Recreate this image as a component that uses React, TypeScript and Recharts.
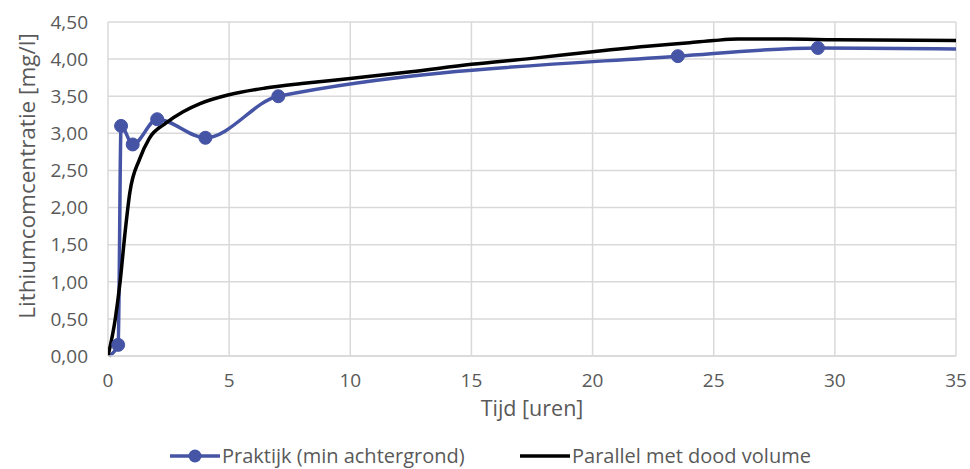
import React from "react";
import { LineChart, Line, XAxis, YAxis, CartesianGrid, Legend, Label } from "recharts";

const praktijkX = [0.05, 0.42, 0.54, 1.02, 2.03, 4.02, 7.03, 23.52, 29.3, 47];
const praktijkY = [0, 0.15, 3.1, 2.85, 3.19, 2.94, 3.5, 4.04, 4.15, 4.07];
const praktijkHiddenDots = [0, 9];

const parallelX = [0, 0.3, 0.5, 0.7, 0.9, 1.3, 1.7, 2.4, 3.1, 3.8, 5, 6.5, 8, 10, 12.5, 15, 17.5, 20, 22.5, 24, 25, 26, 28, 30, 35];
const parallelY = [0, 0.5, 1.0, 1.65, 2.2, 2.65, 2.93, 3.14, 3.29, 3.4, 3.52, 3.61, 3.67, 3.74, 3.83, 3.93, 4.01, 4.1, 4.18, 4.22, 4.25, 4.27, 4.27, 4.26, 4.25];

const xTicks = [0, 5, 10, 15, 20, 25, 30, 35];
const yTicks = [0, 0.5, 1, 1.5, 2, 2.5, 3, 3.5, 4, 4.5];

const seriesNames = ["Praktijk (min achtergrond)", "Parallel met dood volume"];
const xTitle = "Tijd [uren]";
const yTitle = "Lithiumcomcentratie [mg/l]";

const praktijkData = praktijkX.map((x, i) => ({ x, y: praktijkY[i] }));
const parallelData = parallelX.map((x, i) => ({ x, y: parallelY[i] }));

const BLUE = "#4654a6";
const TEXT = "#595959";
const FONT = "'Open Sans', sans-serif";

const BlueDot = (props: any) => {
  const { cx, cy, index } = props;
  if (praktijkHiddenDots.includes(index)) return <g key={index} />;
  return <circle key={index} cx={cx} cy={cy} r={6.5} fill={BLUE} stroke={BLUE} strokeWidth={1} />;
};

const LegendContent = () => (
  <div style={{ position: "relative", width: 970, height: 26, fontFamily: FONT, fontSize: 20, color: TEXT }}>
    <svg width={970} height={26} style={{ position: "absolute", left: 0, top: 0 }}>
      <line x1={170} y1={13} x2={220} y2={13} stroke={BLUE} strokeWidth={3.5} />
      <circle cx={195} cy={13} r={6.5} fill={BLUE} />
      <line x1={520} y1={13} x2={570} y2={13} stroke="#000" strokeWidth={3.5} />
      <text x={222} y={13} dy="0.35em" fill={TEXT} fontFamily={FONT} fontSize={20}>{seriesNames[0]}</text>
      <text x={572} y={13} dy="0.35em" fill={TEXT} fontFamily={FONT} fontSize={20}>{seriesNames[1]}</text>
    </svg>
  </div>
);

const YTitle = (props: any) => {
  const x = 26;
  const y = 176;
  return (
    <text x={x} y={y} transform={`rotate(-90, ${x}, ${y})`} textAnchor="middle" dominantBaseline="central" fill={TEXT} fontFamily={FONT} fontSize={22.5}>
      {yTitle}
    </text>
  );
};

export default function App() {
  return (
    <div style={{ position: "absolute", left: 0, top: 0, width: 970, height: 469, background: "#fff" }}>
      <LineChart width={970} height={469} margin={{ top: 22, right: 14, bottom: 12, left: 0 }}>
        <CartesianGrid stroke="#d9d9d9" strokeWidth={1.5} />
        <XAxis
          type="number"
          dataKey="x"
          domain={[0, 35]}
          ticks={xTicks}
          allowDataOverflow
          height={75}
          tickLine={false}
          axisLine={{ stroke: "#d9d9d9", strokeWidth: 1.5 }}
          tick={{ fill: TEXT, fontSize: 19, fontFamily: FONT }}
          tickMargin={12}
        >
          <Label value={xTitle} position="insideBottom" offset={15} fill={TEXT} fontSize={21.5} fontFamily={FONT} />
        </XAxis>
        <YAxis
          type="number"
          domain={[0, 4.5]}
          ticks={yTicks}
          width={108}
          tickLine={false}
          axisLine={false}
          tick={{ fill: TEXT, fontSize: 19, fontFamily: FONT }}
          tickMargin={14}
          tickFormatter={(v: number) => v.toFixed(2).replace(".", ",")}
        >
          <Label content={<YTitle />} />
        </YAxis>
        <Legend verticalAlign="bottom" content={<LegendContent />} wrapperStyle={{ left: 0, bottom: 0, width: 970 }} />
        <Line
          data={praktijkData}
          dataKey="y"
          type="monotone"
          stroke={BLUE}
          strokeWidth={3.5}
          dot={<BlueDot />}
          isAnimationActive={false}
          name={seriesNames[0]}
        />
        <Line
          data={parallelData}
          dataKey="y"
          type="monotone"
          stroke="#000"
          strokeWidth={3.5}
          dot={false}
          isAnimationActive={false}
          name={seriesNames[1]}
        />
      </LineChart>
    </div>
  );
}
